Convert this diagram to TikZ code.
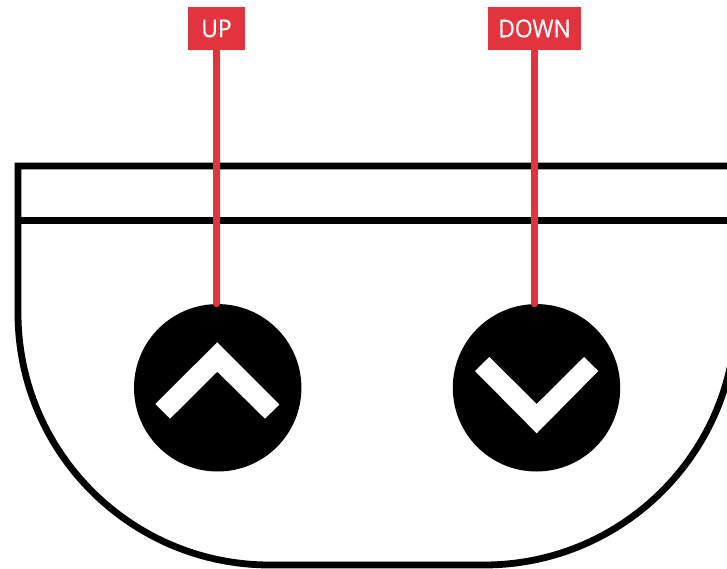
\documentclass[tikz,border=0pt]{standalone}
\usepackage{fontspec}
\setmainfont{Open Sans}[FakeStretch=0.93, FakeBold=0.5]
\usetikzlibrary{positioning}
\definecolor{tagred}{HTML}{E2343F}
\tikzset{
  tag/.style={fill=tagred, text=white, inner sep=0pt, minimum height=43pt, font=\fontsize{24.5}{26}\selectfont},
  button/.style={circle, fill=black, inner sep=0pt, minimum size=167.4pt},
  lead/.style={draw=tagred, line width=6.6pt, line cap=round},
  outline/.style={draw=black, line width=6.8pt, line join=miter},
  chevron/.style={fill=white}
}

\begin{document}
\begin{tikzpicture}[x=1pt, y=-1pt]
  \useasboundingbox (0,0) rectangle (727,569);
  \clip (0,0) rectangle (727,569);
  % housing
  \draw[outline] (740,166)--(18,166)--(18,313)
     arc[start angle=180, end angle=90, radius=252] --(484,565)
     arc[start angle=90, end angle=0, radius=252];
  \draw[outline] (14.7,220.5)--(740,220.5);
  % buttons
  \node[button] (upbutton) at (217.7,387.8) {};
  \node[button] (downbutton) at (536.5,387.8) {};
  \fill[chevron] (217.3,342.3)--(279.3,404.5)--(265,418.7)--(217.3,371.7)--(170,418.7)--(155.3,404)--cycle;
  \fill[chevron] (536.7,433.3)--(598.3,371)--(584,357)--(536.7,404)--(489.3,357)--(475,371)--cycle;
  % labels
  \node[tag, minimum width=57pt] (uptag) at (216.5,28.5) {UP};
  \node[tag, minimum width=93pt] (downtag) at (534.5,28.5) {DOWN};
  \draw[lead] (uptag.south) -- (uptag.south |- upbutton.north);
  \draw[lead] (downtag.south) -- (downtag.south |- downbutton.north);
\end{tikzpicture}
\end{document}
